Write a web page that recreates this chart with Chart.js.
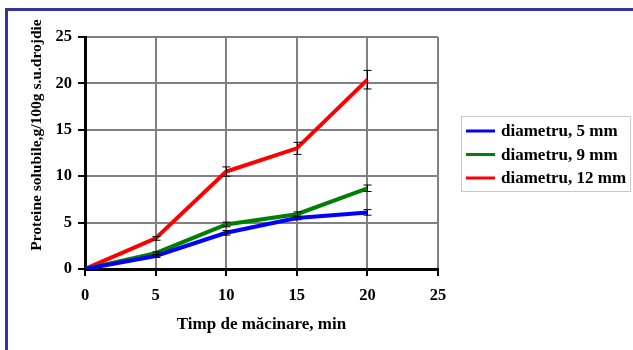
<!DOCTYPE html>
<html>
<head>
<meta charset="utf-8">
<script src="https://cdn.jsdelivr.net/npm/chart.js@4.4.1/dist/chart.umd.min.js"></script>
<style>
  html, body { margin: 0; padding: 0; background: #fff; }
  #wrap { position: relative; width: 633px; height: 350px; overflow: hidden; }
  #frame { position: absolute; left: 5px; top: 8px; width: 700px; height: 400px;
           border-left: 3px solid #3434a0; border-top: 3px solid #3434a0; }
  canvas { position: absolute; left: 0; top: 0; }
</style>
</head>
<body>
<div id="wrap">
  <div id="frame"></div>
  <canvas id="chart" width="633" height="350"></canvas>
</div>
<script>
// Soluble protein vs milling time, three particle diameters

const times = [0, 5, 10, 15, 20];
const labels = ["diametru, 5 mm", "diametru, 9 mm", "diametru, 12 mm"];
const d5  = [0, 1.4, 3.9, 5.5, 6.1];
const d9  = [0, 1.7, 4.8, 5.9, 8.7];
const d12 = [0, 3.3, 10.5, 13.0, 20.4];
const err5  = [0, 0.15, 0.25, 0.2, 0.3];
const err9  = [0, 0.15, 0.25, 0.25, 0.35];
const err12 = [0, 0.2, 0.5, 0.65, 1.0];
const colors = ["#0000ff", "#008000", "#ff0000"];

const FONT = "'Liberation Serif', 'Times New Roman', serif";
const pts = (ys) => ys.map((y, i) => ({ x: times[i], y }));

// error bars drawn through the scales
const errorBars = {
  id: "errorBars",
  afterDatasetsDraw(chart) {
    const { ctx, scales: { x, y } } = chart;
    ctx.save();
    ctx.strokeStyle = "#000";
    ctx.lineWidth = 1;
    chart.data.datasets.forEach((ds) => {
      ds.data.forEach((p, i) => {
        const e = ds.errors[i];
        if (!e) return;
        const px = Math.round(x.getPixelForValue(p.x)) + 0.5;
        const top = y.getPixelForValue(p.y + e);
        const bot = y.getPixelForValue(p.y - e);
        ctx.beginPath();
        ctx.moveTo(px, top); ctx.lineTo(px, bot);
        ctx.moveTo(px - 4, top); ctx.lineTo(px + 4, top);
        ctx.moveTo(px - 4, bot); ctx.lineTo(px + 4, bot);
        ctx.stroke();
      });
    });
    ctx.restore();
  }
};

// y title (sits a bit above centre in the original) and boxed legend
const extras = {
  id: "extras",
  afterDraw(chart) {
    const { ctx, chartArea } = chart;
    ctx.save();
    ctx.fillStyle = "#000";
    ctx.font = "bold 15.5px " + FONT;
    ctx.textAlign = "center";
    ctx.textBaseline = "middle";
    ctx.translate(37, 135);
    ctx.rotate(-Math.PI / 2);
    ctx.fillText("Proteine solubile,g/100g s.u.drojdie", 0, 0);
    ctx.restore();

    ctx.save();
    ctx.font = "bold 17px " + FONT;
    const left = chartArea.right + 23;
    const y0 = 131, step = 23.5;
    const textX = left + 40;
    let maxW = 0;
    chart.data.datasets.forEach((ds) => { maxW = Math.max(maxW, ctx.measureText(ds.label).width); });
    const n = chart.data.datasets.length;
    ctx.strokeStyle = "#c8c8c8";
    ctx.lineWidth = 1;
    ctx.strokeRect(left + 0.5, y0 - 15 + 0.5, textX + maxW + 4 - left, (n - 1) * step + 28);
    ctx.textBaseline = "middle";
    ctx.fillStyle = "#000";
    chart.data.datasets.forEach((ds, i) => {
      const yy = y0 + i * step;
      ctx.strokeStyle = ds.borderColor;
      ctx.lineWidth = 3;
      ctx.beginPath();
      ctx.moveTo(left + 5, yy); ctx.lineTo(left + 34, yy);
      ctx.stroke();
      ctx.fillText(ds.label, textX, yy + 1);
    });
    ctx.restore();
  }
};

const axisCommon = {
  type: "linear",
  min: 0,
  max: 25,
  ticks: { stepSize: 5, color: "#000", font: { family: FONT, size: 16.5, weight: "bold" } },
  grid: { color: "#808080", lineWidth: 2, tickLength: 7, tickColor: "#000", tickWidth: 2 },
  border: { display: true, color: "#000", width: 3 },
};

new Chart(document.getElementById("chart"), {
  type: "line",
  data: {
    datasets: [
      { label: labels[0], data: pts(d5),  errors: err5,  borderColor: colors[0], backgroundColor: colors[0] },
      { label: labels[1], data: pts(d9),  errors: err9,  borderColor: colors[1], backgroundColor: colors[1] },
      { label: labels[2], data: pts(d12), errors: err12, borderColor: colors[2], backgroundColor: colors[2] },
    ].map(ds => ({ ...ds, borderWidth: 4, pointRadius: 0, tension: 0, fill: false }))
  },
  options: {
    responsive: false,
    animation: false,
    layout: { padding: { left: 0, top: 37, right: 195, bottom: 0 } },
    plugins: { legend: { display: false }, tooltip: { enabled: false } },
    scales: {
      x: {
        ...axisCommon,
        position: "bottom",
        ticks: { ...axisCommon.ticks, padding: 10 },
        title: { display: true, text: "Timp de măcinare, min", color: "#000",
                 font: { family: FONT, size: 17, weight: "bold" }, padding: { top: 4, bottom: 15 } },
        afterFit: (s) => { s.height = 81; },
      },
      y: {
        ...axisCommon,
        position: "left",
        ticks: { ...axisCommon.ticks, padding: 6 },
        afterFit: (s) => { s.width = 85; },
      },
    },
  },
  plugins: [errorBars, extras],
});
</script>
</body>
</html>
